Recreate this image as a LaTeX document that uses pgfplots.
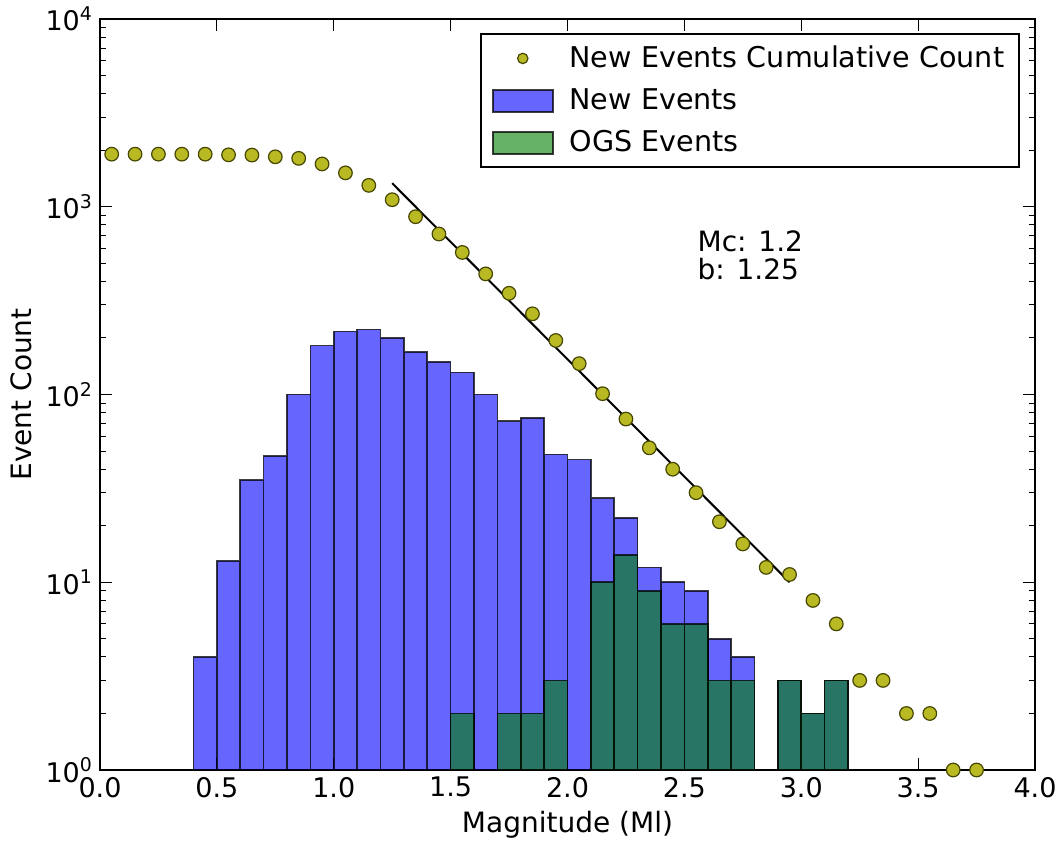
\documentclass[border=0pt]{standalone}
\usepackage{pgfplots}
\pgfplotsset{compat=1.18}
\usepackage{fontspec}
\setmainfont{DejaVu Sans}
\definecolor{dotfill}{RGB}{185,185,35}
\definecolor{dotedge}{RGB}{70,70,0}
\definecolor{mplgreen}{RGB}{0,128,0}
\pgfplotsset{
  barlegend/.style={legend image code/.code={\draw[##1] (0pt,-5.5pt) rectangle (30pt,5.5pt);}},
  dotlegend/.style={legend image code/.code={\draw[mark repeat=2,mark phase=2,##1,mark size=2.6pt] plot coordinates {(0pt,0pt)(15pt,0pt)(30pt,0pt)};}},
}

\begin{document}
\begin{tikzpicture}
\path[use as bounding box] (-50pt,-37.5pt) rectangle (478pt,385pt);
\begin{axis}[
  at={(0pt,0pt)}, anchor=south west,
  scale only axis, width=467.5pt, height=375.5pt,
  xmin=0, xmax=4, ymin=1, ymax=10000, ymode=log, log basis y=10,
  xtick={0,0.5,1,1.5,2,2.5,3,3.5,4},
  xticklabel style={/pgf/number format/.cd, fixed, fixed zerofill, precision=1},
  /pgf/number format/assume math mode=true,
  ytick={1,10,100,1000,10000},
  minor ytick={2,3,4,5,6,7,8,9,20,30,40,50,60,70,80,90,200,300,400,500,600,700,800,900,2000,3000,4000,5000,6000,7000,8000,9000},
  yticklabels={10\textsuperscript{0},10\textsuperscript{1},10\textsuperscript{2},10\textsuperscript{3},10\textsuperscript{4}},
  tick align=inside,
  major tick length=6pt, minor tick length=3pt,
  tick style={black, line width=0.5pt},
  axis line style={line width=0.8pt},
  tick label style={font=\fontsize{13.5}{16}\selectfont},
  label style={font=\fontsize{14}{17}\selectfont},
  xlabel={Magnitude (Ml)}, ylabel={Event Count},
  legend cell align=left,
  legend style={at={(0.984,0.981)}, anchor=north east, draw=black, line width=0.8pt,
    font=\fontsize{14.3}{17}\selectfont, row sep=5pt, inner xsep=5.5pt, inner ysep=4pt,
    /tikz/every odd column/.append style={column sep=6pt}},
]
\addplot[only marks, mark=*, mark size=3.4pt, mark options={fill=dotfill, draw=dotedge, line width=0.6pt}, dotlegend]
coordinates {
(0.05,1906)(0.15,1906)(0.25,1906)(0.35,1906)(0.45,1906)(0.55,1890)(0.65,1885)(0.75,1845)
(0.85,1810)(0.95,1690)(1.05,1515)(1.15,1300)(1.25,1090)(1.35,885)(1.45,716)(1.55,571)
(1.65,439)(1.75,346)(1.85,269)(1.95,194)(2.05,146)(2.15,101)(2.25,74)(2.35,52)
(2.45,40)(2.55,30)(2.65,21)(2.75,16)(2.85,12)(2.95,11)(3.05,8)(3.15,6)
(3.25,3)(3.35,3)(3.45,2)(3.55,2)(3.65,1)(3.75,1)
};
\addlegendentry{New Events Cumulative Count}
\addplot[ybar, bar width=0.1, bar shift=0pt, fill=blue, fill opacity=0.6, draw=black, draw opacity=0.75, line width=0.8pt, barlegend]
coordinates {
(0.45,4)(0.55,13)(0.65,35)(0.75,47)(0.85,100)(0.95,182)(1.05,217)(1.15,222)
(1.25,200)(1.35,168)(1.45,149)(1.55,131)(1.65,100)(1.75,72)(1.85,75)(1.95,48)
(2.05,45)(2.15,28)(2.25,22)(2.35,12)(2.45,10)(2.55,9)(2.65,5)(2.75,4)
(2.95,3)(3.05,2)(3.15,3)
};
\addlegendentry{New Events}
\addplot[ybar, bar width=0.1, bar shift=0pt, fill=mplgreen, fill opacity=0.6, draw=black, draw opacity=0.75, line width=0.8pt, barlegend]
coordinates {
(1.55,2)(1.75,2)(1.85,2)(1.95,3)(2.15,10)(2.25,14)(2.35,9)(2.45,6)
(2.55,6)(2.65,3)(2.75,3)(2.95,3)(3.05,2)(3.15,3)
};
\addlegendentry{OGS Events}
\addplot[black, line width=1pt, forget plot] coordinates {(1.25,1334)(2.95,10)};
\node[anchor=north west, align=left, inner sep=0pt, font=\fontsize{14}{14}\selectfont]
  at (axis cs:2.555,745) {Mc: 1.2\\b: 1.25};
\end{axis}
\end{tikzpicture}
\end{document}
